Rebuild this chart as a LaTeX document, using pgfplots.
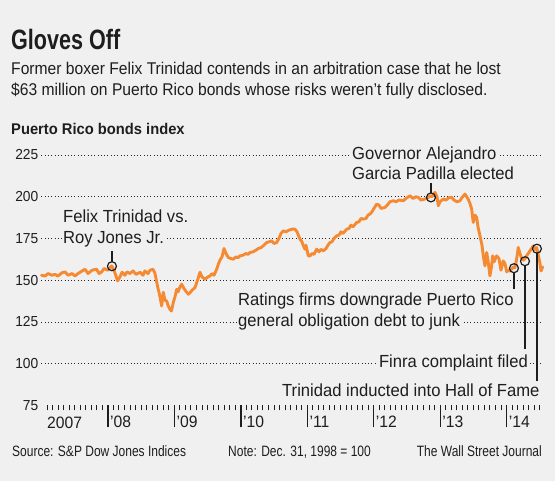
\documentclass[border=0pt]{standalone}
\usepackage{pgfplots}
\pgfplotsset{compat=1.18}
\usepackage{pgfplotstable}
\usepackage{fontspec}
\setmainfont{Liberation Sans}[FakeStretch=0.95]
\newfontfamily\subfont{Liberation Sans}[FakeStretch=0.92]
\newfontfamily\titlefont{Liberation Sans}[FakeStretch=0.77]
\newfontfamily\footfont{Liberation Sans}[FakeStretch=0.8]
\newfontfamily\tickfont{Liberation Sans}[FakeStretch=0.95]
\definecolor{bg}{HTML}{F0F0F0}
\definecolor{wsjorange}{HTML}{F58A32}
\definecolor{ink}{HTML}{1E1E1E}

\pgfplotstableread{
x y
2007.000 153.0
2007.053 152.5
2007.098 154.0
2007.158 153.0
2007.203 153.5
2007.248 152.5
2007.308 154.5
2007.354 155.0
2007.399 153.0
2007.459 154.0
2007.504 152.6
2007.549 154.0
2007.609 155.5
2007.654 156.6
2007.700 154.0
2007.760 156.0
2007.830 156.6
2007.865 154.0
2007.906 155.0
2007.940 157.0
2008.000 156.0
2008.056 158.6
2008.091 156.0
2008.146 149.6
2008.181 152.0
2008.211 154.8
2008.256 153.0
2008.286 155.0
2008.331 154.0
2008.377 155.6
2008.422 153.5
2008.482 154.8
2008.527 153.0
2008.557 155.6
2008.602 154.0
2008.632 156.0
2008.677 156.6
2008.708 154.0
2008.733 149.0
2008.753 145.0
2008.768 142.8
2008.783 140.0
2008.808 134.6
2008.832 142.8
2008.858 138.0
2008.884 137.6
2008.903 135.0
2008.933 132.5
2008.956 131.6
2008.983 136.8
2009.008 140.0
2009.034 144.6
2009.054 143.0
2009.084 146.0
2009.109 147.6
2009.144 145.0
2009.184 142.8
2009.209 141.6
2009.234 142.5
2009.264 144.0
2009.309 145.6
2009.339 149.0
2009.385 154.8
2009.415 152.0
2009.460 150.6
2009.505 152.0
2009.535 152.6
2009.565 154.0
2009.595 153.0
2009.636 156.6
2009.660 159.6
2009.685 162.0
2009.716 164.0
2009.746 169.0
2009.776 166.0
2009.810 163.6
2009.851 163.0
2009.886 162.6
2009.926 164.0
2009.956 163.5
2009.986 164.6
2010.031 165.0
2010.077 166.0
2010.107 165.5
2010.137 166.6
2010.182 167.0
2010.227 168.0
2010.262 169.0
2010.302 169.5
2010.347 171.0
2010.388 172.6
2010.423 173.0
2010.463 173.6
2010.498 172.0
2010.538 172.6
2010.573 175.0
2010.603 178.0
2010.638 179.6
2010.678 179.0
2010.723 180.0
2010.769 180.6
2010.814 180.6
2010.844 179.0
2010.889 174.6
2010.919 173.0
2010.939 170.6
2010.964 168.6
2010.979 171.0
2011.014 164.6
2011.039 164.6
2011.070 166.0
2011.100 165.5
2011.140 168.6
2011.175 167.0
2011.205 168.5
2011.240 167.6
2011.280 169.0
2011.310 171.0
2011.340 172.6
2011.370 173.0
2011.400 175.0
2011.441 176.6
2011.476 177.0
2011.506 179.0
2011.536 178.0
2011.592 180.6
2011.626 181.0
2011.656 183.0
2011.686 182.0
2011.742 184.6
2011.777 185.0
2011.807 187.0
2011.841 186.6
2011.882 187.0
2011.912 189.0
2011.942 189.6
2011.972 191.0
2012.002 193.0
2012.043 195.6
2012.077 195.0
2012.108 193.0
2012.168 193.6
2012.213 195.5
2012.243 197.0
2012.293 197.6
2012.333 197.0
2012.378 198.0
2012.443 197.6
2012.484 199.0
2012.544 200.6
2012.589 199.0
2012.634 200.0
2012.669 199.6
2012.709 198.0
2012.769 198.6
2012.815 199.5
2012.845 200.6
2012.875 200.0
2012.920 202.6
2012.950 200.0
2012.970 194.6
2012.995 197.0
2013.045 198.6
2013.085 198.0
2013.131 199.5
2013.171 199.6
2013.206 198.0
2013.251 197.0
2013.296 197.6
2013.326 199.5
2013.371 201.6
2013.421 198.5
2013.446 196.0
2013.472 192.6
2013.496 184.6
2013.522 189.0
2013.547 187.6
2013.567 182.0
2013.597 176.6
2013.627 171.0
2013.647 164.6
2013.672 158.6
2013.698 166.6
2013.717 162.0
2013.747 152.6
2013.770 158.0
2013.788 164.6
2013.808 161.0
2013.848 164.6
2013.883 163.0
2013.913 156.0
2013.947 161.6
2013.973 160.0
2013.999 155.0
2014.018 156.0
2014.048 155.5
2014.078 157.0
2014.098 158.0
2014.123 157.5
2014.146 162.0
2014.173 169.6
2014.199 166.0
2014.224 163.0
2014.251 162.0
2014.274 163.0
2014.304 165.0
2014.324 166.0
2014.349 167.6
2014.399 170.5
2014.424 168.5
2014.450 169.6
2014.470 166.0
2014.500 160.0
2014.515 155.5
2014.540 158.0
}\bonds

\pgfplotstableread{
x y
2008.060 158.4
2012.860 199.6
2014.108 157.2
2014.274 161.4
2014.454 168.9
}\events

\begin{document}
\begin{tikzpicture}
\path[use as bounding box, fill=bg] (0pt,0pt) rectangle (555pt,481pt);

% x axis ticks and year labels
\begin{axis}[
  at={(41.5pt,75.5pt)}, anchor=south west,
  scale only axis, width=498.5pt, height=250.5pt,
  xmin=2007, xmax=2014.5, ymin=75, ymax=225,
  axis line style={draw=none},
  ytick=\empty,
  xtick={2008,...,2014},
  xticklabels={’08,’09,’10,’11,’12,’13,’14},
  minor xtick={2007.0833333,2007.1666667,...,2014.51},
  xtick pos=left,
  tick align=outside,
  major tick length=22pt, minor tick length=5pt,
  major tick style={ink, line width=1.4pt},
  minor tick style={ink, line width=1pt},
  xticklabel style={anchor=base west, inner sep=0pt, xshift=2pt,
    font=\tickfont\fontsize{16.5}{16.5}\selectfont, text=ink},
  /pgf/number format/assume math mode=true,
]
\end{axis}

% main axis
\begin{axis}[
  at={(41.5pt,75.5pt)}, anchor=south west,
  scale only axis, width=498.5pt, height=250.5pt,
  xmin=2007, xmax=2014.5, ymin=75, ymax=225,
  axis line style={draw=none},
  xtick=\empty,
  ytick={100,125,...,225},
  extra y ticks={75},
  extra y tick style={grid=none},
  ymajorgrids,
  major grid style={black!85, line width=0.9pt, dash pattern=on 0.9pt off 2.4pt},
  tick style={draw=none},
  major tick length=0pt,
  yticklabel style={anchor=east, inner sep=0pt, xshift=-3pt,
    font=\tickfont\fontsize{14.5}{14.5}\selectfont, text=ink},
  /pgf/number format/assume math mode=true,
  clip=false,
]
\addplot[wsjorange, line width=2.9pt, line join=round, line cap=round] table {\bonds};
\addplot[only marks, mark=o, mark size=4.5pt, mark options={draw=ink, line width=1.2pt}] table {\events};
\coordinate (fa) at (axis cs:2008.06,161.1);
\coordinate (fb) at (axis cs:2008.06,167.4);
\coordinate (ga) at (axis cs:2012.86,202.3);
\coordinate (gb) at (axis cs:2012.86,208.2);
\coordinate (ra) at (axis cs:2014.108,154.5);
\coordinate (rb) at (axis cs:2014.108,144.6);
\coordinate (na) at (axis cs:2014.274,158.7);
\coordinate (nb) at (axis cs:2014.274,108.6);
\coordinate (ha) at (axis cs:2014.454,166.2);
\coordinate (hb) at (axis cs:2014.454,89.4);
\end{axis}

\begin{scope}[x=1pt,y=1pt, every node/.style={text=ink}]
\node[anchor=base west, inner sep=0pt] at (11,431) {\titlefont\bfseries\fontsize{28}{28}\selectfont Gloves Off};
\node[anchor=base west, inner sep=0pt] at (11,406) {\subfont\fontsize{17}{17}\selectfont Former boxer Felix Trinidad contends in an arbitration case that he lost};
\node[anchor=base west, inner sep=0pt] at (11,385) {\subfont\fontsize{17}{17}\selectfont \$63 million on Puerto Rico bonds whose risks weren’t fully disclosed.};
\node[anchor=base west, inner sep=0pt] at (11,346) {\bfseries\fontsize{15.5}{15.5}\selectfont Puerto Rico bonds index};

\begin{scope}[every node/.style={text=ink, fill=bg, inner sep=1.5pt, font=\fontsize{17.5}{17.5}\selectfont}]
\node[anchor=base west] at (61.5,258.3) {Felix Trinidad vs.};
\node[anchor=base west] at (61.5,237.7) {Roy Jones Jr.};
\node[anchor=base west] at (350.5,321.7) {Governor Alejandro};
\node[anchor=base west] at (350.5,301) {Garcia Padilla elected};
\node[anchor=base west] at (236.5,175) {Ratings firms downgrade Puerto Rico};
\node[anchor=base west] at (236.5,154) {general obligation debt to junk};
\node[anchor=base east] at (529.5,113) {Finra complaint filed};
\node[anchor=base west] at (280.5,84.3) {Trinidad inducted into Hall of Fame};
\end{scope}

\node[anchor=base west, inner sep=0pt] at (47,52) {\tickfont\fontsize{16.5}{16.5}\selectfont 2007};

\node[anchor=base west, inner sep=0pt] at (12,24.3) {\footfont\fontsize{15}{15}\selectfont Source: S\&P Dow Jones Indices};
\node[anchor=base west, inner sep=0pt] at (228,24.3) {\footfont\fontsize{15}{15}\selectfont Note: Dec. 31, 1998 = 100};
\node[anchor=base east, inner sep=0pt] at (542,24.3) {\footfont\fontsize{15}{15}\selectfont The Wall Street Journal};
\end{scope}

\draw[ink, line width=1.4pt] (fa) -- (fb);
\draw[ink, line width=1.4pt] (ga) -- (gb);
\draw[ink, line width=1.4pt] (ra) -- (rb);
\draw[ink, line width=1.4pt] (na) -- (nb);
\draw[ink, line width=1.4pt] (ha) -- (hb);
\end{tikzpicture}
\end{document}
